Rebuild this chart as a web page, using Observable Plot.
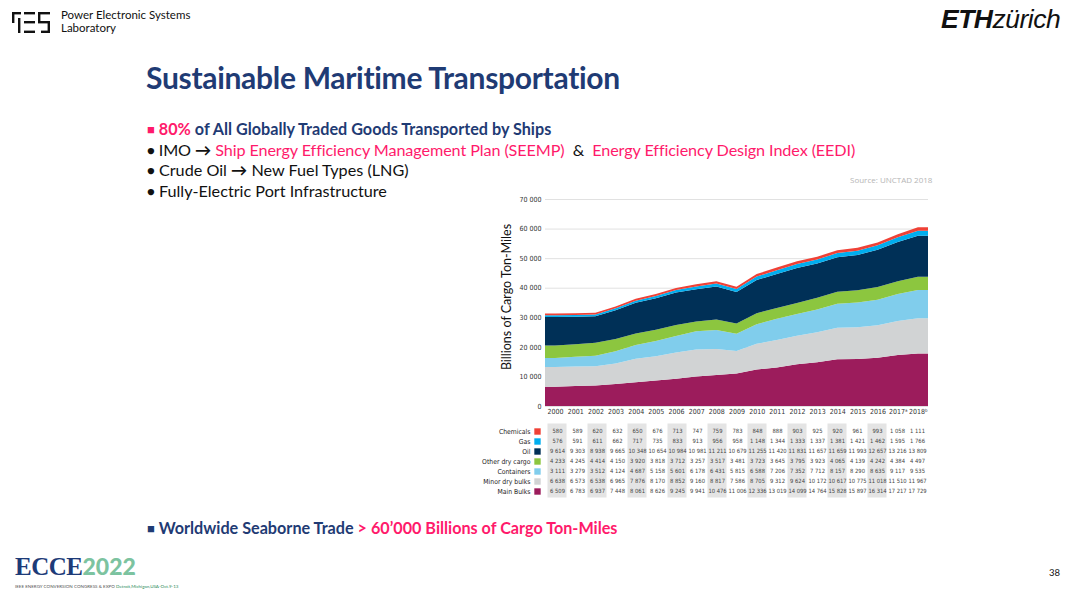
<!DOCTYPE html>
<html><head><meta charset="utf-8">
<script src="https://cdn.jsdelivr.net/npm/d3@7"></script>
<script src="https://cdn.jsdelivr.net/npm/@observablehq/plot@0.6"></script>
<style>
html,body{margin:0;padding:0;background:#fff;width:1080px;height:593px;overflow:hidden;font-family:Lato,"Open Sans",sans-serif;}
.abs{position:absolute;white-space:nowrap;}
.pink{color:#ff1a6b;}
.blue{color:#1f3b74;}
.b{font-weight:bold;}
.bul{font-size:16.2px;color:#111;}
.mk{font-size:13px;vertical-align:1px;}
</style></head><body>
<script>
// ---- data ----
const years = [2000,2001,2002,2003,2004,2005,2006,2007,2008,2009,2010,2011,2012,2013,2014,2015,2016,2017,2018];
const yearLabels = ["2000","2001","2002","2003","2004","2005","2006","2007","2008","2009","2010","2011","2012","2013","2014","2015","2016","2017ᵃ","2018ᵇ"];
const seriesNames = ["Main Bulks","Minor dry bulks","Containers","Other dry cargo","Oil","Gas","Chemicals"];
const seriesColors = ["#9c1c5c","#d1d3d4","#80cdec","#8cc63f","#003057","#00aeef","#ef4136"];
const mainBulks     = [6509,6783,6937,7448,8061,8626,9245,9941,10476,11006,12336,13019,14099,14764,15828,15897,16314,17217,17729];
const minorDryBulks = [6638,6573,6538,6965,7876,8170,8852,9160,8817,7586,8705,9312,9624,10172,10617,10775,11018,11510,11967];
const containers    = [3111,3279,3512,4124,4687,5158,5601,6178,6431,5815,6588,7206,7352,7712,8157,8290,8635,9117,9535];
const otherDryCargo = [4233,4245,4414,4150,3920,3818,3712,3257,3517,3481,3723,3645,3795,3923,4065,4139,4242,4384,4497];
const oil           = [9614,9303,8938,9665,10348,10654,10984,10981,11211,10679,11255,11420,11831,11657,11659,11993,12657,13216,13809];
const gas           = [576,591,611,662,717,735,833,913,956,958,1148,1344,1333,1337,1381,1421,1462,1595,1766];
const chemicals     = [580,589,620,632,650,676,713,747,759,783,848,888,903,925,920,961,993,1058,1111];
const yTicks = [0,10000,20000,30000,40000,50000,60000,70000];
const seriesValues = [mainBulks,minorDryBulks,containers,otherDryCargo,oil,gas,chemicals];
</script>

<!-- header -->
<svg class="abs" style="left:12px;top:12px" width="42" height="22" viewBox="0 0 42 22">
  <g fill="#111">
    <rect x="0" y="0" width="9" height="2.4"/><rect x="0" y="0" width="2.4" height="11"/>
    <rect x="6" y="6" width="2.4" height="15"/>
    <rect x="12" y="0" width="11" height="2.4"/><rect x="12" y="9" width="11" height="2.4"/><rect x="12" y="18.6" width="11" height="2.4"/>
    <rect x="26" y="0" width="12" height="2.4"/><rect x="26" y="0" width="2.4" height="11"/><rect x="26" y="9" width="12" height="2.4"/><rect x="35.6" y="9" width="2.4" height="12"/><rect x="29" y="18.6" width="9" height="2.4"/>
  </g>
</svg>
<div class="abs" style="left:61px;top:9px;font-size:11.5px;line-height:12.5px;color:#111;">Power Electronic Systems<br>Laboratory</div>
<div class="abs" style="left:941px;top:4px;font-size:26.5px;color:#111;font-family:'Liberation Sans',Arial,sans-serif;font-style:italic;letter-spacing:-0.5px;"><span style="font-weight:900;">ETH</span>zürich</div>

<div class="abs b" style="left:146px;top:59px;font-size:30px;color:#1f3b74;letter-spacing:-0.3px;">Sustainable Maritime Transportation</div>

<div class="abs bul b" style="left:147px;top:119px;"><span class="pink mk">■</span> <span class="pink">80%</span> <span class="blue">of All Globally Traded Goods Transported by Ships</span></div>
<div class="abs bul" style="left:147px;top:140px;letter-spacing:-0.1px;"><span class="mk">●</span> IMO <b>→</b> <span class="pink">Ship Energy Efficiency Management Plan (SEEMP)</span>&nbsp; &amp; &nbsp;<span class="pink">Energy Efficiency Design Index (EEDI)</span></div>
<div class="abs bul" style="left:147px;top:160px;"><span class="mk">●</span> Crude Oil <b>→</b> New Fuel Types (LNG)</div>
<div class="abs bul" style="left:147px;top:181px;"><span class="mk">●</span> Fully-Electric Port Infrastructure</div>

<div class="abs" style="left:850px;top:174px;font-size:8px;color:#b5b5b5;font-family:'Open Sans',sans-serif;">Source: UNCTAD 2018</div>

<div class="abs" style="left:506px;top:297px;font-size:12.5px;color:#111;transform:translate(-50%,-50%) rotate(-90deg);font-family:Lato,sans-serif;">Billions of Cargo Ton-Miles</div>

<div id="chart" class="abs" style="left:490px;top:185px;"></div>
<div id="table" class="abs" style="left:490px;top:420px;"></div>

<div class="abs bul b" style="left:147px;top:518px;"><span class="blue mk">■</span> <span class="blue">Worldwide Seaborne Trade</span> <span class="pink">&gt; 60’000 Billions of Cargo Ton-Miles</span></div>

<!-- ECCE logo approximation -->
<div class="abs" style="left:15px;top:555px;font-family:'Liberation Serif',serif;font-weight:900;font-size:25px;line-height:22px;color:#1d3b78;letter-spacing:-0.5px;">ECCE<span style="color:#7cc3a0;font-family:Lato,sans-serif;font-size:23px;letter-spacing:0;">2022</span></div>
<div class="abs" style="left:15px;top:584px;font-size:4.5px;line-height:5px;color:#555;">IEEE ENERGY CONVERSION CONGRESS &amp; EXPO <span style="color:#2a8a5a;">Detroit,Michigan,USA-Oct.9-13</span></div>

<div class="abs" style="left:1049px;top:567px;font-size:9.5px;color:#111;">38</div>

<script>
const font = "'Liberation Sans Narrow','DejaVu Sans Condensed','Liberation Sans',sans-serif";
const rows = [];
seriesNames.forEach((s, si) => {
  years.forEach((yr, i) => rows.push({year: yr, series: s, value: seriesValues[si][i]}));
});
// area edges extend flat to the band edges of first/last category
const areaRows = [];
seriesNames.forEach((s, si) => {
  const v = seriesValues[si];
  areaRows.push({year: years[0] - 0.5, series: s, value: v[0]});
  years.forEach((yr, i) => areaRows.push({year: yr, series: s, value: v[i]}));
  areaRows.push({year: years[years.length-1] + 0.5, series: s, value: v[v.length-1]});
});

const chart = Plot.plot({
  width: 450, height: 236,
  marginLeft: 55, marginRight: 12, marginTop: 14, marginBottom: 15,
  style: {fontFamily: font, fontSize: "7px", color: "#333", background: "transparent"},
  x: {type: "linear", domain: [years[0]-0.5, years[years.length-1]+0.5], ticks: years, tickFormat: d => yearLabels[years.indexOf(d)], tickSize: 0, tickPadding: 3, label: null},
  y: {domain: [0, 70000], ticks: yTicks, tickFormat: d => d3.format(",")(d).replace(/,/g, " "), tickSize: 0, tickPadding: 4, label: null},
  color: {domain: seriesNames, range: seriesColors},
  marks: [
    Plot.gridY(yTicks, {stroke: "#d9d9d9", strokeOpacity: 1, strokeWidth: 0.8}),
    Plot.areaY(areaRows, {x: "year", y: "value", z: "series", fill: "series", order: seriesNames}),
  ]
});
document.getElementById("chart").append(chart);

const fmt = d => d3.format(",")(d).replace(/,/g, " ");
const shaded = yearLabels.filter((d, i) => i % 2 === 0 && i < 17);
const rowOrder = seriesNames.slice().reverse();
const table = Plot.plot({
  width: 450, height: 81,
  marginLeft: 55, marginRight: 12, marginTop: 3, marginBottom: 3,
  style: {fontFamily: font, fontSize: "7px", color: "#222", background: "transparent", overflow: "visible"},
  x: {type: "band", domain: yearLabels, padding: 0, axis: null},
  y: {type: "band", domain: rowOrder, padding: 0, tickSize: 0, tickPadding: 15, label: null},
  color: {domain: seriesNames, range: seriesColors},
  marks: [
    Plot.cell(shaded, {x: d => d, fill: "#e4e4e4", inset: 0.5}),
    Plot.dot(rowOrder, {y: d => d, frameAnchor: "left", dx: -8, symbol: "square", r: 3.6, fill: d => d}),
    Plot.text(rows, {x: d => yearLabels[years.indexOf(d.year)], y: "series", text: d => fmt(d.value), fontSize: 5.8, fill: "#444"}),
    Plot.axisY({tickSize: 0, tickPadding: 15, fontSize: 6.8, fill: "#222"})
  ]
});
document.getElementById("table").append(table);
</script>
</body></html>
